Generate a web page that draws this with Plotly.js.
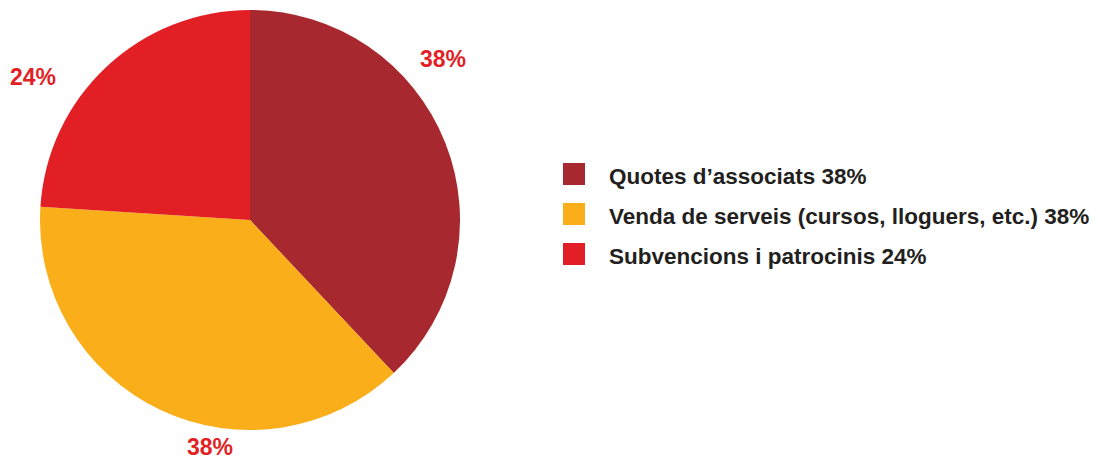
<!DOCTYPE html>
<html>
<head>
<meta charset="utf-8">
<script src="https://cdn.plot.ly/plotly-3.0.1.min.js"></script>
<style>html,body{margin:0;padding:0;background:#fff;}#chart{width:1098px;height:459px;}</style>
</head>
<body>
<div id="chart"></div>
<script>
const categories = ["Quotes d\u2019associats", "Venda de serveis (cursos, lloguers, etc.)", "Subvencions i patrocinis"];
const values = [38, 38, 24];
const colors = ["#A8282F", "#F9AE1A", "#E31F26"];
const pctLabels = values.map(v => v + "%");

const W = 1098, H = 459;
const FONT = "Liberation Sans, Arial, sans-serif";

const trace = {
  type: "pie",
  labels: categories,
  values: values,
  sort: false,
  direction: "clockwise",
  rotation: 0,
  marker: {colors: colors, line: {width: 0}},
  textinfo: "none",
  hoverinfo: "label+percent",
  domain: {x: [40 / W, 460 / W], y: [1 - 430 / H, 1 - 10 / H]},
  showlegend: false
};

// outside percentage labels (positions in paper coords)
const labelPos = [[443, 59], [210, 447], [33, 77]];
const annotations = [];
const shapes = [];
labelPos.forEach((p, i) => {
  annotations.push({
    xref: "paper", yref: "paper",
    x: p[0] / W, y: 1 - p[1] / H,
    xanchor: "center", yanchor: "middle",
    text: "<b>" + pctLabels[i] + "</b>",
    showarrow: false,
    borderpad: 0,
    font: {family: FONT, size: 23, color: "#E31F26"}
  });
});

// custom legend
const legRows = [174, 214, 254];
categories.forEach((c, i) => {
  const cy = legRows[i];
  shapes.push({
    type: "rect", xref: "paper", yref: "paper",
    x0: 563 / W, x1: 585 / W, y0: 1 - (cy + 11) / H, y1: 1 - (cy - 11) / H,
    fillcolor: colors[i], line: {width: 0}
  });
  annotations.push({
    xref: "paper", yref: "paper",
    x: 607 / W, y: 1 - (cy + 2) / H,
    xanchor: "left", yanchor: "middle",
    text: "<b>" + c + " " + pctLabels[i] + "</b>",
    showarrow: false,
    font: {family: FONT, size: 22.5, color: "#231F20"}
  });
});

const layout = {
  width: W, height: H,
  margin: {l: 0, r: 0, t: 0, b: 0},
  paper_bgcolor: "#ffffff",
  plot_bgcolor: "#ffffff",
  showlegend: false,
  annotations: annotations,
  shapes: shapes
};

Plotly.newPlot("chart", [trace], layout, {displayModeBar: false, staticPlot: true});
</script>
</body>
</html>
